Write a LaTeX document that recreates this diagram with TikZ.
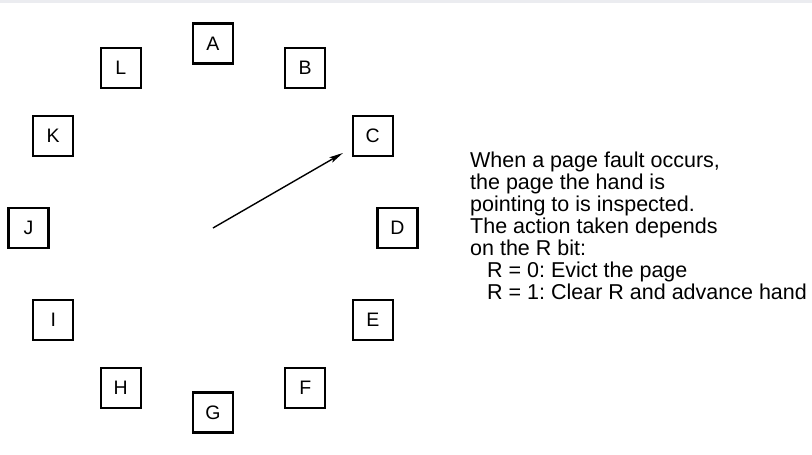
\documentclass[tikz,border=0pt]{standalone}
\usepackage{fontspec}
\setmainfont{Liberation Sans}
\usetikzlibrary{positioning,arrows.meta}
\definecolor{topband}{RGB}{235,236,240}
\frenchspacing

\begin{document}
\begin{tikzpicture}[
    page/.style={draw, line width=2.4pt, minimum size=40pt, inner sep=0pt,
                 font=\fontsize{19.5}{19.5}\selectfont},
    hand/.style={line width=1.4pt, shorten >=10pt,
                 -{Stealth[length=14pt, width=6pt, inset=3pt]}},
    note/.style={anchor=north west, inner sep=0pt, align=left,
                 font=\fontsize{21.5}{22}\selectfont},
  ]
  \useasboundingbox (-213pt,-227pt) rectangle (599pt,228pt);
  \fill[topband] (-213pt,224.5pt) rectangle (599pt,228pt);

  % --- clock face: twelve pages ---
  \coordinate (hub) at (0,0);
  \foreach \lbl [count=\i from 0] in {A,B,C,D,E,F,G,H,I,J,K,L}
    \node[page] (p\lbl) at ({90-30*\i}:184.5pt) {\lbl};

  % --- hand ---
  \draw[hand] (hub) -- (pC);

  % --- explanation ---
  \node[note] (txt) at (257pt,76.5pt)
    {When a page fault occurs,\\
     the page the hand is\\
     pointing to is inspected.\\
     The action taken depends\\
     on the R bit:\\
     \hspace*{17pt}R = 0: Evict the page\\
     \hspace*{17pt}R = 1: Clear R and advance hand};
\end{tikzpicture}
\end{document}
